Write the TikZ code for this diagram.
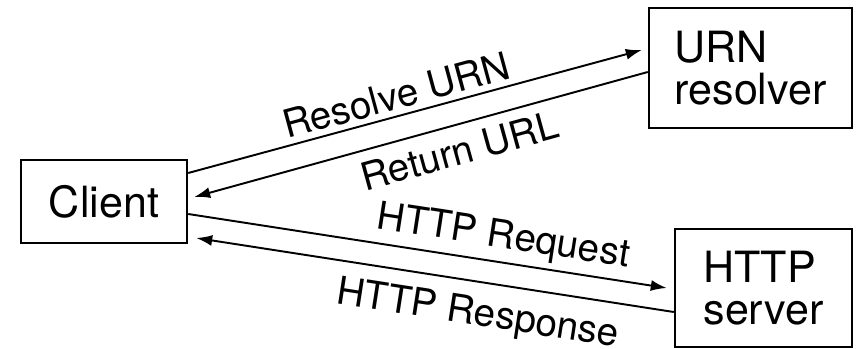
\documentclass[tikz,border=0pt]{standalone}
\usepackage{fontspec}
\setmainfont{TeX Gyre Heros}
\usetikzlibrary{arrows.meta,calc}

\begin{document}
\begin{tikzpicture}[x=0.02cm, y=-0.02cm,
    >={Latex[length=3.2mm,width=2.2mm]},
    box/.style={draw, line width=1.4pt, inner sep=0pt, align=left,
      font=\fontsize{24.5}{24}\selectfont},
    msg/.style={line width=1.1pt},
    lbl/.style={sloped, inner sep=3pt, font=\fontsize{22}{22}\selectfont}]
    \useasboundingbox (0,0) rectangle (861,348);
    \node[box, minimum width=3.32cm, minimum height=1.66cm] (client) at (104, 201.5){Client};
    \node[box, minimum width=4.06cm, minimum height=2.4cm] (urn) at (750.5, 68){URN\\resolver};
    \node[box, minimum width=3.54cm, minimum height=2.36cm] (http) at (763.5, 288){HTTP\\server};
    \draw[msg, ->] ($(client.east)+(0,-28.5)$)--($(urn.west)+(-6,-18)$) node[lbl, pos=0.47, above]{Resolve URN};
    \draw[msg, ->] ($(urn.west)+(0,4)$)--($(client.east)+(6,-4.5)$) node[lbl, pos=0.43, below=3pt]{Return URL};
    \draw[msg, ->] ($(client.east)+(0,12.5)$)--($(http.west)+(-7,0)$) node[lbl, pos=0.65, above]{HTTP Request};
    \draw[msg, ->] ($(http.west)+(0,24)$)--($(client.east)+(8,36.5)$) node[lbl, pos=0.40, below=5pt]{HTTP Response};
\end{tikzpicture}
\end{document}
